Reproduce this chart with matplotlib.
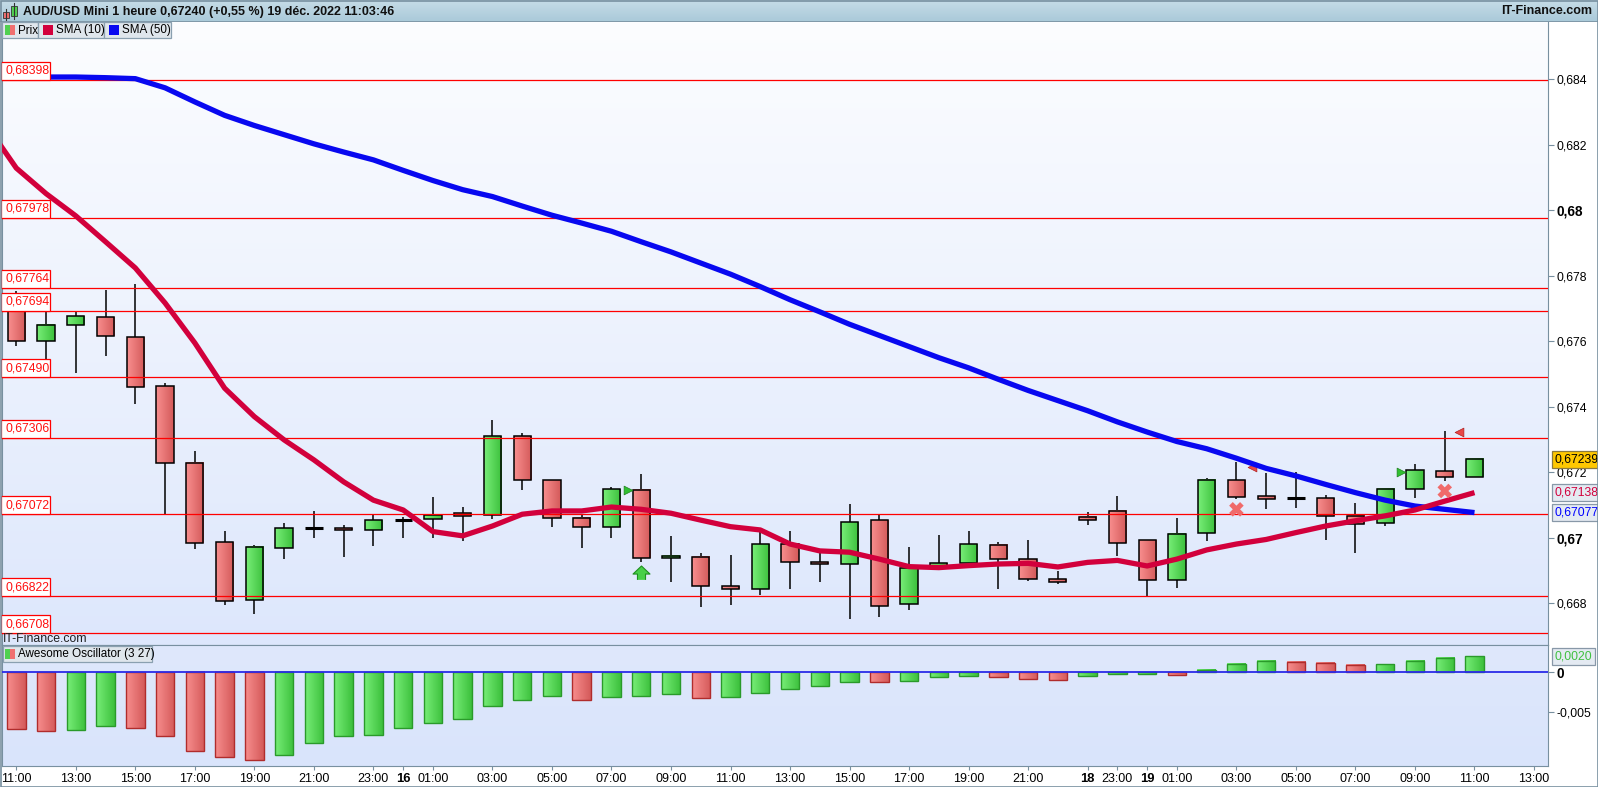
import numpy as np
import matplotlib
matplotlib.use("Agg")
import matplotlib.pyplot as plt
from matplotlib.patches import Rectangle
from matplotlib.colors import LinearSegmentedColormap
from matplotlib.transforms import blended_transform_factory

plt.rcParams['font.family'] = ['Liberation Sans', 'DejaVu Sans']

# ---------------- data ----------------
opens = [0.67696, 0.67600, 0.67649, 0.67673, 0.67612, 0.67463, 0.67228, 0.66986, 0.66809, 0.66968,
         0.67031, 0.67029, 0.67023, 0.67055, 0.67057, 0.67075, 0.67069, 0.67310, 0.67176, 0.67060,
         0.67032, 0.67145, 0.66937, 0.66941, 0.66852, 0.66843, 0.66980, 0.66925, 0.66919, 0.67053,
         0.66797, 0.66907, 0.66922, 0.66977, 0.66934, 0.66873, 0.67063, 0.67081, 0.66992, 0.66870,
         0.67014, 0.67176, 0.67127, 0.67123, 0.67121, 0.67066, 0.67044, 0.67148, 0.67203, 0.67185]
highs = [0.67754, 0.67692, 0.67690, 0.67757, 0.67775, 0.67472, 0.67265, 0.67021, 0.66977, 0.67045,
         0.67082, 0.67038, 0.67070, 0.67064, 0.67125, 0.67094, 0.67360, 0.67320, 0.67178, 0.67070,
         0.67154, 0.67194, 0.67006, 0.66953, 0.66948, 0.67017, 0.67021, 0.66953, 0.67103, 0.67071,
         0.66971, 0.67009, 0.67021, 0.66987, 0.66993, 0.66899, 0.67079, 0.67128, 0.66992, 0.67061,
         0.67182, 0.67232, 0.67199, 0.67201, 0.67130, 0.67106, 0.67148, 0.67225, 0.67326, 0.67244]
lows = [0.67587, 0.67546, 0.67504, 0.67556, 0.67410, 0.67073, 0.66967, 0.66796, 0.66768, 0.66936,
        0.67000, 0.66942, 0.66976, 0.67000, 0.67000, 0.66991, 0.67058, 0.67147, 0.67034, 0.66970,
        0.67000, 0.66925, 0.66864, 0.66790, 0.66796, 0.66826, 0.66845, 0.66866, 0.66753, 0.66759,
        0.66781, 0.66906, 0.66920, 0.66845, 0.66869, 0.66858, 0.67040, 0.66944, 0.66822, 0.66848,
        0.66991, 0.67119, 0.67089, 0.67092, 0.66994, 0.66955, 0.67037, 0.67123, 0.67174, 0.67185]
closes = [0.67600, 0.67649, 0.67676, 0.67615, 0.67460, 0.67228, 0.66983, 0.66806, 0.66971, 0.67029,
          0.67031, 0.67023, 0.67053, 0.67055, 0.67070, 0.67066, 0.67310, 0.67176, 0.67060, 0.67032,
          0.67148, 0.66937, 0.66944, 0.66852, 0.66843, 0.66980, 0.66925, 0.66919, 0.67047, 0.66791,
          0.66909, 0.66922, 0.66980, 0.66934, 0.66873, 0.66864, 0.67053, 0.66983, 0.66870, 0.67011,
          0.67176, 0.67126, 0.67119, 0.67123, 0.67068, 0.67041, 0.67148, 0.67206, 0.67185, 0.67240]

# SMA(10) incl. the bar before the first visible one
sma10 = [0.68260,
         0.68129, 0.68051, 0.67983, 0.67904, 0.67824, 0.67717, 0.67595, 0.67457, 0.67370, 0.67299,
         0.67238, 0.67171, 0.67115, 0.67085, 0.67019, 0.67006, 0.67036, 0.67072, 0.67082, 0.67082,
         0.67094, 0.67087, 0.67075, 0.67054, 0.67034, 0.67024, 0.66981, 0.66960, 0.66956, 0.66935,
         0.66912, 0.66909, 0.66915, 0.66920, 0.66922, 0.66911, 0.66925, 0.66931, 0.66914, 0.66935,
         0.66963, 0.66981, 0.66995, 0.67016, 0.67036, 0.67052, 0.67067, 0.67085, 0.67112, 0.67138]
sma50 = [0.68407, 0.68407, 0.68407, 0.68405, 0.68402, 0.68374, 0.68331, 0.68290, 0.68259, 0.68231,
         0.68203, 0.68178, 0.68154, 0.68122, 0.68091, 0.68063, 0.68042, 0.68013, 0.67985, 0.67961,
         0.67936, 0.67904, 0.67873, 0.67839, 0.67805, 0.67767, 0.67727, 0.67690, 0.67652, 0.67618,
         0.67584, 0.67550, 0.67519, 0.67484, 0.67450, 0.67419, 0.67388, 0.67354, 0.67323, 0.67294,
         0.67272, 0.67243, 0.67212, 0.67189, 0.67163, 0.67138, 0.67115, 0.67097, 0.67087, 0.67077]

ao = [-0.00707, -0.00733, -0.00720, -0.00669, -0.00694, -0.00796, -0.00988, -0.01064, -0.01102, -0.01038,
      -0.00886, -0.00796, -0.00784, -0.00694, -0.00631, -0.00580, -0.00427, -0.00350, -0.00299, -0.00350,
      -0.00312, -0.00299, -0.00274, -0.00325, -0.00312, -0.00261, -0.00210, -0.00172, -0.00118, -0.00125,
      -0.00105, -0.00057, -0.00045, -0.00057, -0.00083, -0.00096, -0.00045, -0.00019, -0.00015, -0.00032,
      0.00032, 0.00108, 0.00147, 0.00134, 0.00121, 0.00092, 0.00098, 0.00147, 0.00185, 0.00200]

levels = [0.68398, 0.67978, 0.67764, 0.67694, 0.67490, 0.67306, 0.67072, 0.66822, 0.66708]
level_labels = ['0,68398', '0,67978', '0,67764', '0,67694', '0,67490', '0,67306', '0,67072', '0,66822', '0,66708']

tick_slots = [0, 2, 4, 6, 8, 10, 12, 13, 14, 16, 18, 20, 22, 24, 26, 28, 30, 32, 34, 36, 37, 38,
              39, 41, 43, 45, 47, 49, 51]
tick_texts = ['11:00', '13:00', '15:00', '17:00', '19:00', '21:00', '23:00', '16', '01:00', '03:00',
              '05:00', '07:00', '09:00', '11:00', '13:00', '15:00', '17:00', '19:00', '21:00', '18',
              '23:00', '19', '01:00', '03:00', '05:00', '07:00', '09:00', '11:00', '13:00']
day_labels = ['16', '18', '19']

price_ticks = [0.668, 0.670, 0.672, 0.674, 0.676, 0.678, 0.680, 0.682, 0.684]
price_tick_labels = ['0,668', '0,67', '0,672', '0,674', '0,676', '0,678', '0,68', '0,682', '0,684']

# signals
up_arrow_x, up_arrow_y = [21], [0.66889]
buy_tri_x, buy_tri_y = [20.55, 46.53], [0.67146, 0.67200]
sell_tri_x, sell_tri_y = [41.52, 48.48], [0.67217, 0.67322]
cross_x, cross_y = [41, 48], [0.67087, 0.67143]

# ---------------- figure ----------------
W, H = 1598, 787
fig = plt.figure(figsize=(W / 100, H / 100), dpi=100)
fig.patch.set_facecolor('white')

def fr(x0, y0, x1, y1):
    return [x0 / W, 1 - y1 / H, (x1 - x0) / W, (y1 - y0) / H]

ax = fig.add_axes(fr(2, 22, 1548, 645))
aox = fig.add_axes(fr(2, 645, 1548, 766), sharex=ax)

GRID = '#7890a0'
x = np.arange(len(opens))
xlim = (-0.48, 51.47)
ylim = (0.666727, 0.685750)
aolim = (-0.011713, 0.003413)

# backgrounds
bg_cm = LinearSegmentedColormap.from_list('bg', ['#dde7fc', '#fcfdff'])
ax.imshow(np.linspace(0, 1, 256).reshape(-1, 1), cmap=bg_cm, origin='lower', extent=[0, 1, 0, 1],
          transform=ax.transAxes, aspect='auto', zorder=0)
bg2 = LinearSegmentedColormap.from_list('bg2', ['#d9e4fb', '#dfe8fc'])
aox.imshow(np.linspace(0, 1, 256).reshape(-1, 1), cmap=bg2, origin='lower', extent=[0, 1, 0, 1],
           transform=aox.transAxes, aspect='auto', zorder=0)

red_cm = LinearSegmentedColormap.from_list('r', ['#f88e8e', '#d45a5a'])
green_cm = LinearSegmentedColormap.from_list('g', ['#78ee78', '#3cc03c'])
hgrad = np.linspace(0, 1, 64).reshape(1, -1)

# candles
bw = 0.58
ax.vlines(x, lows, highs, color='black', lw=1.1, zorder=2)
for xi, o, c in zip(x, opens, closes):
    if abs(c - o) < 0.00002:
        ax.hlines(o, xi - bw / 2, xi + bw / 2, color='black', lw=2.2, zorder=3)
        continue
    lo, hi = min(o, c), max(o, c)
    cm = green_cm if c > o else red_cm
    ax.imshow(hgrad, cmap=cm, extent=(xi - bw / 2, xi + bw / 2, lo, hi), aspect='auto',
              interpolation='bilinear', zorder=3)
    ax.add_patch(Rectangle((xi - bw / 2, lo), bw, hi - lo, fill=False, ec='black', lw=1.1, zorder=3.1))

# horizontal levels
for lv in levels:
    ax.axhline(lv, color='#ff0000', lw=0.9, zorder=4)

# moving averages
ax.plot(x, sma50, color='#0808f0', lw=3.8, zorder=5, solid_capstyle='butt')
ax.plot(np.arange(-1, len(opens)), sma10, color='#d2003c', lw=3.8, zorder=5.5, solid_capstyle='butt')

# signals
ax.scatter(up_arrow_x, up_arrow_y, marker=[(-0.45, -0.6), (-0.45, 0.05), (-0.95, 0.05), (0, 0.95),
                                            (0.95, 0.05), (0.45, 0.05), (0.45, -0.6)],
           s=150, c='#48d048', edgecolors='#209020', linewidths=0.8, zorder=6)
ax.scatter(buy_tri_x, buy_tri_y, marker='>', s=40, c='#30c030', edgecolors='#208020', linewidths=0.5, zorder=4.5)
ax.scatter(sell_tri_x, sell_tri_y, marker='<', s=40, c='#e84848', edgecolors='#b02020', linewidths=0.5, zorder=4.5)
ax.scatter(cross_x, cross_y, marker='X', s=110, c='#f06a6a', edgecolors='none', zorder=6)

# level labels on the left
ax.set_xlim(*xlim)
ax.set_ylim(*ylim)
axh_px = 623.0
units_per_px = (ylim[1] - ylim[0]) / axh_px
bt = blended_transform_factory(ax.transAxes, ax.transData)
for lv, lab in zip(levels, level_labels):
    ax.add_patch(Rectangle((-1.5 / 1546, lv), 49 / 1546, 18 * units_per_px, transform=bt,
                           fc='white', ec='#ff0000', lw=0.9, zorder=7, clip_on=False))
    ax.text(4 / 1546, lv + 9 * units_per_px, lab, transform=bt, color='#ff1010', fontsize=8.8,
            va='center', ha='left', zorder=8)

# right axis
for a in (ax, aox):
    a.yaxis.tick_right()
    for s in a.spines.values():
        s.set_color(GRID)
    a.tick_params(axis='y', direction='out', length=4, color=GRID, pad=2, labelsize=8.8)
ax.spines['top'].set_visible(False)
ax.set_yticks(price_ticks)
ax.set_yticklabels(price_tick_labels)
for t in ax.get_yticklabels():
    if t.get_text() in ('0,68', '0,67'):
        t.set_fontweight('bold')
        t.set_fontsize(9.8)
ax.tick_params(axis='x', bottom=False, labelbottom=False)

def tag(a, yv, text, fc, ec, tc):
    a.annotate(text, xy=(1.0, yv), xycoords=('axes fraction', 'data'), xytext=(5, 0),
               textcoords='offset points', va='center', ha='left', fontsize=8.8, color=tc,
               bbox=dict(boxstyle='square,pad=0.22', fc=fc, ec=ec, lw=0.9), zorder=10,
               annotation_clip=False)

tag(ax, closes[-1], '0,67239', '#ffc800', '#8a7a40', 'black')
tag(ax, sma10[-1], '0,67138', '#e4eaf2', '#8898a8', '#d2003c')
tag(ax, sma50[-1], '0,67077', '#e4eaf2', '#8898a8', '#0000ff')

# awesome oscillator
aw = 0.62
ao_up = np.r_[False, np.diff(ao) > 0]
for xi, v, up in zip(x, ao, ao_up):
    cm = green_cm if up else red_cm
    lo, hi = min(0, v), max(0, v)
    aox.imshow(hgrad, cmap=cm, extent=(xi - aw / 2, xi + aw / 2, lo, hi), aspect='auto',
               interpolation='bilinear', zorder=3)
    aox.add_patch(Rectangle((xi - aw / 2, lo), aw, hi - lo, fill=False,
                            ec='#2a9a2a' if up else '#b02c2c', lw=1.0, zorder=3.1))
aox.axhline(0, color='#2a2ae8', lw=1.3, zorder=4)
aox.set_ylim(*aolim)
aox.set_xlim(*xlim)
aox.set_yticks([-0.005, 0])
aox.set_yticklabels(['-0,005', '0'])
aox.get_yticklabels()[1].set_fontweight('bold')
aox.get_yticklabels()[1].set_fontsize(9.8)
tag(aox, ao[-1], '0,0020', '#e4eaf2', '#8898a8', '#40c040')

aox.set_xticks(tick_slots)
aox.set_xticklabels(tick_texts)
aox.tick_params(axis='x', direction='out', length=3, color=GRID, pad=2)
for t in aox.get_xticklabels():
    t.set_fontsize(9.0)
    if t.get_text() in day_labels:
        t.set_fontweight('bold')
        t.set_fontsize(9.4)

# ---------------- header, legends, texts ----------------
hax = fig.add_axes(fr(0, 0, W, 22))
hcm = LinearSegmentedColormap.from_list('h', ['#a9c9d9', '#c6dce7'])
hax.imshow(np.linspace(0, 1, 64).reshape(-1, 1), cmap=hcm, origin='lower', extent=[0, 1, 0, 1],
           aspect='auto')
hax.set_xlim(0, 1)
hax.set_ylim(0, 1)
hax.axis('off')
hax.axhline(0.02, color=GRID, lw=1.2)

def px(xp, yp):
    return xp / W, 1 - yp / H

def frect(x0, y0, x1, y1, **kw):
    fig.add_artist(Rectangle((x0 / W, 1 - y1 / H), (x1 - x0) / W, (y1 - y0) / H,
                             transform=fig.transFigure, **kw))

# header icon
fig.add_artist(plt.Line2D([6 / W, 6 / W], [1 - 9 / H, 1 - 20 / H], transform=fig.transFigure, color='#333', lw=0.8))
frect(3, 12, 9, 18, fc='#f07070', ec='#333', lw=0.6)
fig.add_artist(plt.Line2D([14 / W, 14 / W], [1 - 3 / H, 1 - 19 / H], transform=fig.transFigure, color='#333', lw=0.8))
frect(11, 6, 17, 16, fc='#50d050', ec='#333', lw=0.6)
fig.text(*px(23, 11.5), 'AUD/USD Mini 1 heure 0,67240 (+0,55 %) 19 déc. 2022 11:03:46',
         fontsize=9.0, fontweight='bold', color='#101010', va='center', ha='left')
fig.text(*px(1592, 11.5), 'IT-Finance.com', fontsize=9.0, fontweight='bold', color='#101010',
         va='center', ha='right')

# main legend boxes
LEG_FC, LEG_EC = '#dfe6ec', '#8aa0b0'
frect(2, 22, 38, 38, fc=LEG_FC, ec=LEG_EC, lw=0.9, zorder=20)
frect(5, 25, 10, 35, fc='#50d050', ec='none', zorder=21)
frect(10, 25, 15, 35, fc='#f07070', ec='none', zorder=21)
fig.text(*px(18, 30.5), 'Prix', fontsize=8.4, va='center', ha='left', zorder=22)
frect(38, 22, 104, 38, fc=LEG_FC, ec=LEG_EC, lw=0.9, zorder=20)
frect(43, 25, 53, 35, fc='#d2003c', ec='none', zorder=21)
fig.text(*px(56, 30.5), 'SMA (10)', fontsize=8.4, va='center', ha='left', zorder=22)
frect(104, 22, 171, 38, fc=LEG_FC, ec=LEG_EC, lw=0.9, zorder=20)
frect(109, 25, 119, 35, fc='#0808f0', ec='none', zorder=21)
fig.text(*px(122, 30.5), 'SMA (50)', fontsize=8.4, va='center', ha='left', zorder=22)

# watermark in main pane and AO legend
fig.text(*px(3, 639.5), 'IT-Finance.com', fontsize=8.8, color='#202020', va='center', ha='left', zorder=22)
frect(3, 646, 152, 662, fc=LEG_FC, ec=LEG_EC, lw=0.9, zorder=20)
frect(5, 649, 10, 659, fc='#50d050', ec='none', zorder=21)
frect(10, 649, 15, 659, fc='#f07070', ec='none', zorder=21)
fig.text(*px(18, 654.5), 'Awesome Oscillator (3 27)', fontsize=8.4, va='center', ha='left', zorder=22)

# outer frame
frect(0.5, 0.5, W - 0.5, H - 0.5, fill=False, ec=GRID, lw=1.2, zorder=30)

fig.savefig('out.png', dpi=100)
